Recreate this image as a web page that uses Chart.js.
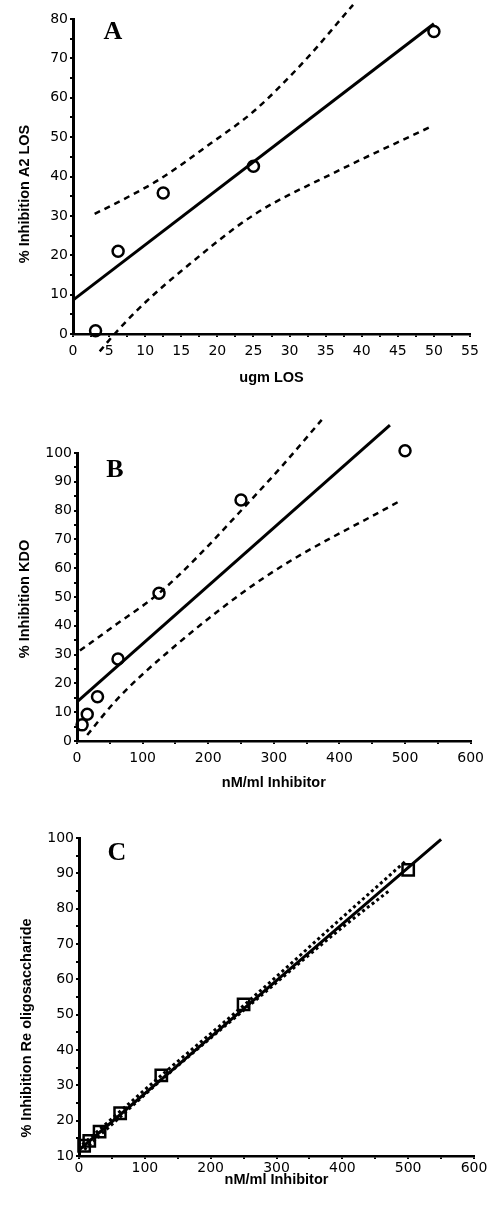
<!DOCTYPE html>
<html>
<head>
<meta charset="utf-8">
<script src="https://cdn.jsdelivr.net/npm/chart.js@4"></script>
<style>
  body { margin: 0; background: #fff; }
  .panel { position: absolute; left: 0; width: 490px; }
</style>
</head>
<body>
<div class="panel" style="top:0px;height:400px"><canvas id="chartA" width="490" height="400"></canvas></div>
<div class="panel" style="top:400px;height:400px"><canvas id="chartB" width="490" height="400"></canvas></div>
<div class="panel" style="top:800px;height:405px"><canvas id="chartC" width="490" height="405"></canvas></div>
<script>
// panel A - LOS
const doseA = [3.125, 6.25, 12.5, 25, 50];
const inhibA = [0.8, 21, 35.8, 42.6, 76.8];
const fitAx = [0, 50];
const fitAy = [8.6, 78.8];
const upperAx = [3, 7, 12, 19, 25, 32, 38.8];
const upperAy = [30.5, 34.2, 39.3, 48.3, 56.5, 69.2, 83.6];
const lowerAx = [3.7, 6, 10, 15, 25, 36, 49.4];
const lowerAy = [-4.4, 0.5, 8, 16, 30.2, 40.8, 52.5];

// panel B - KDO
const doseB = [7.8, 15.6, 31.25, 62.5, 125, 250, 500];
const inhibB = [5.6, 9.3, 15.4, 28.5, 51.3, 83.7, 100.8];
const fitBx = [0, 477];
const fitBy = [13.6, 109.7];
const upperBx = [4.5, 60, 126, 186, 246, 312.6, 373];
const upperBy = [31.4, 40.5, 51.5, 64.5, 79, 95.5, 111.5];
const lowerBx = [15.6, 60, 136, 287, 495];
const lowerBy = [2.1, 14.2, 30.4, 57, 83.7];

// panel C - Re oligosaccharide
const doseC = [7.8, 15.6, 31.25, 62.5, 125, 250, 500];
const inhibC = [12.9, 14.3, 16.9, 22.1, 32.8, 52.9, 91.0];
const fitCx = [0, 550];
const fitCy = [11.7, 99.6];
const upperCx = [5, 125, 250, 400, 495];
const upperCy = [13.2, 32.8, 52.6, 77.5, 93.3];
const lowerCx = [8, 125, 250, 400, 472];
const lowerCy = [11.8, 31.5, 51.2, 74.7, 85.2];

const tickFont = { family: '"DejaVu Sans"', size: 14 };
const titleFont = { family: '"Liberation Sans", Arial', size: 14.5, weight: 'bold' };

function zip(xs, ys) {
    return xs.map((x, i) => ({ x: x, y: ys[i] }));
}

// draws the panel letter and the y axis title
const panelText = {
    id: 'panelText',
    afterDraw(chart, args, opts) {
        let ctx = chart.ctx;
        ctx.save();
        ctx.fillStyle = '#000';
        ctx.textAlign = 'center';
        ctx.textBaseline = 'middle';
        ctx.font = 'bold 26px "Liberation Serif"';
        ctx.fillText(opts.letter, opts.letterX, opts.letterY);
        ctx.translate(opts.titleX, opts.titleY);
        ctx.rotate(-Math.PI / 2);
        ctx.font = 'bold 14.5px "Liberation Sans"';
        ctx.fillText(opts.title, 0, 0);
        ctx.restore();
    }
};

function drawPanel(id, p) {
    let ctx = document.getElementById(id);
    let lineSet = function(pts, dash, width) {
        return {
            data: pts,
            showLine: true,
            borderColor: '#000',
            borderWidth: width,
            borderDash: dash,
            pointRadius: 0,
            cubicInterpolationMode: 'monotone',
            fill: false,
            clip: false
        };
    };
    return new Chart(ctx, {
        type: 'scatter',
        data: {
            datasets: [
                {
                    data: p.points,
                    pointStyle: p.marker,
                    pointRadius: p.markerSize,
                    pointBorderWidth: 2.5,
                    pointBorderColor: '#000',
                    pointBackgroundColor: 'rgba(255,255,255,0)',
                    clip: false
                },
                lineSet(p.fit, [], 3),
                lineSet(p.upper, p.dash, p.dashWidth),
                lineSet(p.lower, p.dash, p.dashWidth)
            ]
        },
        plugins: [panelText],
        options: {
            responsive: false,
            animation: false,
            events: [],
            layout: { padding: { top: p.padTop, right: p.padRight, left: 0, bottom: 0 } },
            plugins: {
                legend: { display: false },
                tooltip: { enabled: false },
                panelText: p.text
            },
            scales: {
                x: {
                    type: 'linear',
                    min: p.xMin,
                    max: p.xMax,
                    afterFit: function(scale) { scale.height = p.xHeight; },
                    border: { display: true, color: '#000', width: 2.5 },
                    grid: { drawOnChartArea: false, drawTicks: true, tickLength: 3, color: '#000', lineWidth: 2 },
                    ticks: {
                        stepSize: p.xStep / 2,
                        autoSkip: false,
                        maxRotation: 0,
                        padding: p.xTickPad,
                        color: '#000',
                        font: tickFont,
                        callback: (v) => (Math.abs(v % p.xStep) < 1e-6 ? v : '')
                    },
                    title: {
                        display: true,
                        text: p.xTitle,
                        color: '#000',
                        font: titleFont,
                        padding: { top: 0, bottom: p.xTitlePad }
                    }
                },
                y: {
                    type: 'linear',
                    min: p.yMin,
                    max: p.yMax,
                    afterFit: function(scale) { scale.width = p.yWidth; },
                    border: { display: true, color: '#000', width: 3 },
                    grid: { drawOnChartArea: false, drawTicks: true, tickLength: 3, color: '#000', lineWidth: 2 },
                    ticks: {
                        stepSize: 5,
                        autoSkip: false,
                        padding: 2,
                        color: '#000',
                        font: tickFont,
                        callback: (v) => (v % 10 === 0 ? v : '')
                    }
                }
            }
        }
    });
}

drawPanel('chartA', {
    points: zip(doseA, inhibA), fit: zip(fitAx, fitAy),
    upper: zip(upperAx, upperAy), lower: zip(lowerAx, lowerAy),
    marker: 'circle', markerSize: 5.5, dash: [6, 5], dashWidth: 2.5,
    xMin: 0, xMax: 55, xStep: 5, yMin: 0, yMax: 80,
    padTop: 19, padRight: 20, yWidth: 73, xHeight: 66, xTickPad: 6, xTitlePad: 13.3,
    xTitle: 'ugm LOS',
    text: { letter: 'A', letterX: 113, letterY: 32, title: '% Inhibition A2 LOS', titleX: 25, titleY: 194 }
});

drawPanel('chartB', {
    points: zip(doseB, inhibB), fit: zip(fitBx, fitBy),
    upper: zip(upperBx, upperBy), lower: zip(lowerBx, lowerBy),
    marker: 'circle', markerSize: 5.5, dash: [6, 5], dashWidth: 2.5,
    xMin: 0, xMax: 600, xStep: 100, yMin: 0, yMax: 100,
    padTop: 53, padRight: 17, yWidth: 77, xHeight: 59, xTickPad: 6, xTitlePad: 8.3,
    xTitle: 'nM/ml Inhibitor',
    text: { letter: 'B', letterX: 115, letterY: 70, title: '% Inhibition KDO', titleX: 25, titleY: 199 }
});

drawPanel('chartC', {
    points: zip(doseC, inhibC), fit: zip(fitCx, fitCy),
    upper: zip(upperCx, upperCy), lower: zip(lowerCx, lowerCy),
    marker: 'rect', markerSize: 8, dash: [3, 3], dashWidth: 3,
    xMin: 0, xMax: 600, xStep: 100, yMin: 10, yMax: 100,
    padTop: 38, padRight: 16, yWidth: 79, xHeight: 49, xTickPad: 1, xTitlePad: 16,
    xTitle: 'nM/ml Inhibitor',
    text: { letter: 'C', letterX: 117, letterY: 53, title: '% Inhibition Re oligosaccharide', titleX: 27, titleY: 228 }
});
</script>
</body>
</html>
